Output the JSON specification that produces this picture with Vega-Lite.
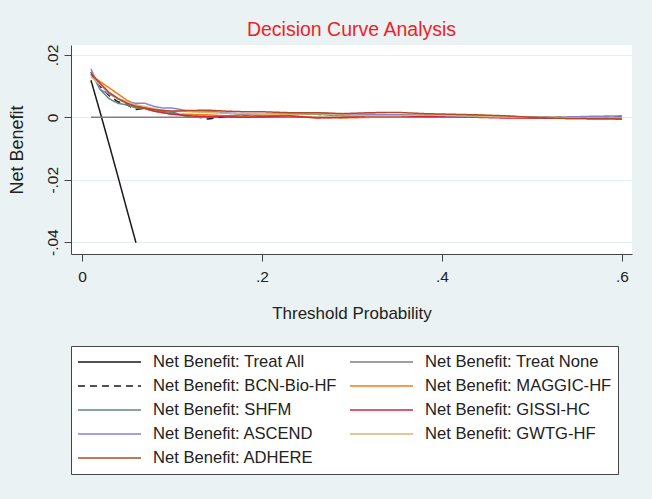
{
  "$schema": "https://vega.github.io/schema/vega-lite/v6.json",
  "width": 561,
  "height": 209,
  "autosize": {"type": "none"},
  "padding": {"left": 71, "top": 45, "right": 20, "bottom": 245},
  "background": "#eaf2f3",
  "config": {"view": {"fill": "white", "stroke": null}, "font": "Liberation Sans"},
  "title": {"text": "Decision Curve Analysis", "color": "#f01e28", "fontSize": 19.5, "fontWeight": "normal", "font": "Liberation Sans", "anchor": "middle", "frame": "group", "baseline": "bottom", "offset": -15},
  "data": {"values": [
    {"m":"Treat All","t":0.01,"nb":0.0119},{"m":"Treat All","t":0.02,"nb":0.0018},{"m":"Treat All","t":0.03,"nb":-0.0085},{"m":"Treat All","t":0.04,"nb":-0.019},{"m":"Treat All","t":0.05,"nb":-0.0297},{"m":"Treat All","t":0.06,"nb":-0.0402},
    {"m":"Treat None","t":0.01,"nb":0},{"m":"Treat None","t":0.6,"nb":0},
    {"m":"BCN-Bio-HF","t":0.01,"nb":0.0145},{"m":"BCN-Bio-HF","t":0.02,"nb":0.01},{"m":"BCN-Bio-HF","t":0.03,"nb":0.007},{"m":"BCN-Bio-HF","t":0.04,"nb":0.005},{"m":"BCN-Bio-HF","t":0.05,"nb":0.004},{"m":"BCN-Bio-HF","t":0.06,"nb":0.0025},{"m":"BCN-Bio-HF","t":0.07,"nb":0.003},{"m":"BCN-Bio-HF","t":0.08,"nb":0.0025},{"m":"BCN-Bio-HF","t":0.09,"nb":0.002},{"m":"BCN-Bio-HF","t":0.1,"nb":0.0015},{"m":"BCN-Bio-HF","t":0.12,"nb":0.0005},{"m":"BCN-Bio-HF","t":0.14,"nb":-0.0005},{"m":"BCN-Bio-HF","t":0.16,"nb":0.0003},{"m":"BCN-Bio-HF","t":0.18,"nb":0.0005},{"m":"BCN-Bio-HF","t":0.2,"nb":0.0008},{"m":"BCN-Bio-HF","t":0.23,"nb":0.001},{"m":"BCN-Bio-HF","t":0.26,"nb":0.001},{"m":"BCN-Bio-HF","t":0.29,"nb":0.0008},{"m":"BCN-Bio-HF","t":0.32,"nb":0.0008},{"m":"BCN-Bio-HF","t":0.35,"nb":0.0008},{"m":"BCN-Bio-HF","t":0.38,"nb":0.0007},{"m":"BCN-Bio-HF","t":0.41,"nb":0.0005},{"m":"BCN-Bio-HF","t":0.44,"nb":0.0003},{"m":"BCN-Bio-HF","t":0.47,"nb":0.0002},{"m":"BCN-Bio-HF","t":0.5,"nb":0},{"m":"BCN-Bio-HF","t":0.53,"nb":0},{"m":"BCN-Bio-HF","t":0.56,"nb":0},{"m":"BCN-Bio-HF","t":0.6,"nb":0},
    {"m":"MAGGIC-HF","t":0.01,"nb":0.0135},{"m":"MAGGIC-HF","t":0.02,"nb":0.0115},{"m":"MAGGIC-HF","t":0.03,"nb":0.0095},{"m":"MAGGIC-HF","t":0.04,"nb":0.0075},{"m":"MAGGIC-HF","t":0.05,"nb":0.0055},{"m":"MAGGIC-HF","t":0.06,"nb":0.004},{"m":"MAGGIC-HF","t":0.07,"nb":0.003},{"m":"MAGGIC-HF","t":0.08,"nb":0.002},{"m":"MAGGIC-HF","t":0.09,"nb":0.0015},{"m":"MAGGIC-HF","t":0.1,"nb":0.001},{"m":"MAGGIC-HF","t":0.12,"nb":0.001},{"m":"MAGGIC-HF","t":0.14,"nb":0.0008},{"m":"MAGGIC-HF","t":0.16,"nb":0.0005},{"m":"MAGGIC-HF","t":0.18,"nb":0.0003},{"m":"MAGGIC-HF","t":0.2,"nb":0.0005},{"m":"MAGGIC-HF","t":0.23,"nb":0.0005},{"m":"MAGGIC-HF","t":0.26,"nb":0},{"m":"MAGGIC-HF","t":0.29,"nb":-0.0002},{"m":"MAGGIC-HF","t":0.32,"nb":0},{"m":"MAGGIC-HF","t":0.35,"nb":0},{"m":"MAGGIC-HF","t":0.38,"nb":0.0002},{"m":"MAGGIC-HF","t":0.41,"nb":0.0005},{"m":"MAGGIC-HF","t":0.44,"nb":0.0003},{"m":"MAGGIC-HF","t":0.47,"nb":0},{"m":"MAGGIC-HF","t":0.5,"nb":-0.0002},{"m":"MAGGIC-HF","t":0.53,"nb":-0.0003},{"m":"MAGGIC-HF","t":0.56,"nb":-0.0003},{"m":"MAGGIC-HF","t":0.6,"nb":-0.0003},
    {"m":"SHFM","t":0.01,"nb":0.0145},{"m":"SHFM","t":0.02,"nb":0.009},{"m":"SHFM","t":0.03,"nb":0.006},{"m":"SHFM","t":0.04,"nb":0.0045},{"m":"SHFM","t":0.05,"nb":0.004},{"m":"SHFM","t":0.06,"nb":0.003},{"m":"SHFM","t":0.07,"nb":0.003},{"m":"SHFM","t":0.08,"nb":0.0025},{"m":"SHFM","t":0.09,"nb":0.002},{"m":"SHFM","t":0.1,"nb":0.0015},{"m":"SHFM","t":0.12,"nb":0},{"m":"SHFM","t":0.14,"nb":0},{"m":"SHFM","t":0.16,"nb":0.0005},{"m":"SHFM","t":0.18,"nb":0.0008},{"m":"SHFM","t":0.2,"nb":0.0008},{"m":"SHFM","t":0.23,"nb":0.001},{"m":"SHFM","t":0.26,"nb":0.001},{"m":"SHFM","t":0.29,"nb":0.0006},{"m":"SHFM","t":0.32,"nb":0.0006},{"m":"SHFM","t":0.35,"nb":0.0008},{"m":"SHFM","t":0.38,"nb":0.0008},{"m":"SHFM","t":0.41,"nb":0.0008},{"m":"SHFM","t":0.44,"nb":0.0006},{"m":"SHFM","t":0.47,"nb":0.0004},{"m":"SHFM","t":0.5,"nb":0},{"m":"SHFM","t":0.53,"nb":-0.0002},{"m":"SHFM","t":0.56,"nb":-0.0002},{"m":"SHFM","t":0.6,"nb":-0.0003},
    {"m":"GISSI-HC","t":0.01,"nb":0.014},{"m":"GISSI-HC","t":0.02,"nb":0.0105},{"m":"GISSI-HC","t":0.03,"nb":0.008},{"m":"GISSI-HC","t":0.04,"nb":0.006},{"m":"GISSI-HC","t":0.05,"nb":0.0045},{"m":"GISSI-HC","t":0.06,"nb":0.0035},{"m":"GISSI-HC","t":0.07,"nb":0.0028},{"m":"GISSI-HC","t":0.08,"nb":0.002},{"m":"GISSI-HC","t":0.09,"nb":0.0015},{"m":"GISSI-HC","t":0.1,"nb":0.001},{"m":"GISSI-HC","t":0.12,"nb":0.0005},{"m":"GISSI-HC","t":0.14,"nb":0.0003},{"m":"GISSI-HC","t":0.16,"nb":0.0002},{"m":"GISSI-HC","t":0.18,"nb":0},{"m":"GISSI-HC","t":0.2,"nb":0.0002},{"m":"GISSI-HC","t":0.23,"nb":0.0005},{"m":"GISSI-HC","t":0.26,"nb":-0.0002},{"m":"GISSI-HC","t":0.29,"nb":0},{"m":"GISSI-HC","t":0.32,"nb":0.0003},{"m":"GISSI-HC","t":0.35,"nb":0.0003},{"m":"GISSI-HC","t":0.38,"nb":0.0003},{"m":"GISSI-HC","t":0.41,"nb":0.0003},{"m":"GISSI-HC","t":0.44,"nb":0},{"m":"GISSI-HC","t":0.47,"nb":-0.0002},{"m":"GISSI-HC","t":0.5,"nb":-0.0002},{"m":"GISSI-HC","t":0.53,"nb":-0.0003},{"m":"GISSI-HC","t":0.56,"nb":-0.0004},{"m":"GISSI-HC","t":0.6,"nb":-0.0005},
    {"m":"ASCEND","t":0.01,"nb":0.0155},{"m":"ASCEND","t":0.02,"nb":0.009},{"m":"ASCEND","t":0.03,"nb":0.0075},{"m":"ASCEND","t":0.04,"nb":0.006},{"m":"ASCEND","t":0.05,"nb":0.005},{"m":"ASCEND","t":0.06,"nb":0.0045},{"m":"ASCEND","t":0.07,"nb":0.0045},{"m":"ASCEND","t":0.08,"nb":0.0035},{"m":"ASCEND","t":0.09,"nb":0.003},{"m":"ASCEND","t":0.1,"nb":0.003},{"m":"ASCEND","t":0.12,"nb":0.002},{"m":"ASCEND","t":0.14,"nb":0.002},{"m":"ASCEND","t":0.16,"nb":0.0015},{"m":"ASCEND","t":0.18,"nb":0.001},{"m":"ASCEND","t":0.2,"nb":0.001},{"m":"ASCEND","t":0.23,"nb":0.0012},{"m":"ASCEND","t":0.26,"nb":0.0015},{"m":"ASCEND","t":0.29,"nb":0.001},{"m":"ASCEND","t":0.32,"nb":0.001},{"m":"ASCEND","t":0.35,"nb":0.0008},{"m":"ASCEND","t":0.38,"nb":0.0008},{"m":"ASCEND","t":0.41,"nb":0.0005},{"m":"ASCEND","t":0.44,"nb":0.0002},{"m":"ASCEND","t":0.47,"nb":0},{"m":"ASCEND","t":0.5,"nb":0},{"m":"ASCEND","t":0.53,"nb":0},{"m":"ASCEND","t":0.56,"nb":0.0003},{"m":"ASCEND","t":0.6,"nb":0.0005},
    {"m":"GWTG-HF","t":0.01,"nb":0.013},{"m":"GWTG-HF","t":0.02,"nb":0.0105},{"m":"GWTG-HF","t":0.03,"nb":0.008},{"m":"GWTG-HF","t":0.04,"nb":0.006},{"m":"GWTG-HF","t":0.05,"nb":0.005},{"m":"GWTG-HF","t":0.06,"nb":0.004},{"m":"GWTG-HF","t":0.07,"nb":0.0035},{"m":"GWTG-HF","t":0.08,"nb":0.0028},{"m":"GWTG-HF","t":0.09,"nb":0.0023},{"m":"GWTG-HF","t":0.1,"nb":0.002},{"m":"GWTG-HF","t":0.12,"nb":0.0018},{"m":"GWTG-HF","t":0.14,"nb":0.0015},{"m":"GWTG-HF","t":0.16,"nb":0.0013},{"m":"GWTG-HF","t":0.18,"nb":0.0012},{"m":"GWTG-HF","t":0.2,"nb":0.001},{"m":"GWTG-HF","t":0.23,"nb":0.001},{"m":"GWTG-HF","t":0.26,"nb":0.0012},{"m":"GWTG-HF","t":0.29,"nb":0.0008},{"m":"GWTG-HF","t":0.32,"nb":0.0005},{"m":"GWTG-HF","t":0.35,"nb":0.0005},{"m":"GWTG-HF","t":0.38,"nb":0.0008},{"m":"GWTG-HF","t":0.41,"nb":0.0006},{"m":"GWTG-HF","t":0.44,"nb":0.0004},{"m":"GWTG-HF","t":0.47,"nb":0.0002},{"m":"GWTG-HF","t":0.5,"nb":0},{"m":"GWTG-HF","t":0.53,"nb":0},{"m":"GWTG-HF","t":0.56,"nb":-0.0002},{"m":"GWTG-HF","t":0.6,"nb":-0.0002},
    {"m":"ADHERE","t":0.01,"nb":0.014},{"m":"ADHERE","t":0.02,"nb":0.011},{"m":"ADHERE","t":0.03,"nb":0.008},{"m":"ADHERE","t":0.04,"nb":0.006},{"m":"ADHERE","t":0.05,"nb":0.0045},{"m":"ADHERE","t":0.06,"nb":0.0035},{"m":"ADHERE","t":0.07,"nb":0.003},{"m":"ADHERE","t":0.08,"nb":0.0025},{"m":"ADHERE","t":0.09,"nb":0.0022},{"m":"ADHERE","t":0.1,"nb":0.002},{"m":"ADHERE","t":0.12,"nb":0.0022},{"m":"ADHERE","t":0.14,"nb":0.0023},{"m":"ADHERE","t":0.16,"nb":0.002},{"m":"ADHERE","t":0.18,"nb":0.0018},{"m":"ADHERE","t":0.2,"nb":0.0018},{"m":"ADHERE","t":0.23,"nb":0.0015},{"m":"ADHERE","t":0.26,"nb":0.0015},{"m":"ADHERE","t":0.29,"nb":0.0012},{"m":"ADHERE","t":0.32,"nb":0.0015},{"m":"ADHERE","t":0.35,"nb":0.0016},{"m":"ADHERE","t":0.38,"nb":0.0012},{"m":"ADHERE","t":0.41,"nb":0.001},{"m":"ADHERE","t":0.44,"nb":0.0008},{"m":"ADHERE","t":0.47,"nb":0.0005},{"m":"ADHERE","t":0.5,"nb":0},{"m":"ADHERE","t":0.53,"nb":-0.0003},{"m":"ADHERE","t":0.56,"nb":-0.0004},{"m":"ADHERE","t":0.6,"nb":-0.0005}
  ]},
  "mark": {"type": "line", "strokeWidth": 1.5},
  "encoding": {
    "x": {"field": "t", "type": "quantitative",
      "scale": {"domain": [-0.0122, 0.6111], "nice": false, "zero": false},
      "axis": {"values": [0, 0.2, 0.4, 0.6], "title": "Threshold Probability",
        "labelExpr": "datum.value == 0 ? '0' : replace(format(datum.value, '.1f'), '0.', '.')",
        "grid": false, "domainColor": "#444", "tickColor": "#444", "tickSize": 7,
        "labelFontSize": 15.5, "labelColor": "#222", "labelPadding": 8, "labelFlush": false,
        "titleFontSize": 17, "titleFontWeight": "normal", "titleColor": "#222", "titlePadding": 21}},
    "y": {"field": "nb", "type": "quantitative",
      "scale": {"domain": [-0.0438, 0.0232], "nice": false, "zero": false},
      "axis": {"values": [-0.04, -0.02, 0, 0.02], "title": "Net Benefit",
        "labelExpr": "datum.value == 0 ? '0' : (datum.value < 0 ? '-' : '') + replace(format(abs(datum.value), '.2f'), '0.', '.')",
        "labelAngle": 270, "labelAlign": "center", "labelBaseline": "alphabetic", "labelPadding": 7,
        "grid": true, "gridColor": "#e3eef0", "gridWidth": 1,
        "domainColor": "#444", "tickColor": "#444", "tickSize": 7,
        "labelFontSize": 15.5, "labelColor": "#222",
        "titleFontSize": 18, "titleFontWeight": "normal", "titleColor": "#222", "titlePadding": 19}},
    "color": {"field": "m", "type": "nominal",
      "scale": {"domain": ["Treat All", "BCN-Bio-HF", "SHFM", "ASCEND", "ADHERE", "Treat None", "MAGGIC-HF", "GISSI-HC", "GWTG-HF"],
        "range": ["#1a1a1a", "#1a1a1a", "#5f8a7a", "#8b80d8", "#b44a24", "#808080", "#ee7d1f", "#d2263e", "#d4b873"]},
      "legend": {"title": null, "orient": "none", "legendX": 0, "legendY": 301, "columns": 2, "gridAlign": "all",
        "symbolType": "stroke", "symbolSize": 3969, "symbolStrokeWidth": 1.5,
        "labelFontSize": 16.6, "labelColor": "#222", "labelOffset": 11, "labelLimit": 300,
        "labelExpr": "'Net Benefit: ' + datum.label",
        "clipHeight": 20, "rowPadding": 4, "columnPadding": 9, "padding": 6,
        "fillColor": "white", "strokeColor": "#444"}},
    "strokeDash": {"field": "m", "type": "nominal",
      "scale": {"domain": ["Treat All", "BCN-Bio-HF", "SHFM", "ASCEND", "ADHERE", "Treat None", "MAGGIC-HF", "GISSI-HC", "GWTG-HF"],
        "range": [[1, 0], [7, 5], [1, 0], [1, 0], [1, 0], [1, 0], [1, 0], [1, 0], [1, 0]]},
      "legend": {"title": null, "orient": "none", "legendX": 0, "legendY": 301, "columns": 2, "gridAlign": "all",
        "symbolType": "stroke", "symbolSize": 3969, "symbolStrokeWidth": 1.5,
        "labelFontSize": 16.6, "labelColor": "#222", "labelOffset": 11, "labelLimit": 300,
        "labelExpr": "'Net Benefit: ' + datum.label",
        "clipHeight": 20, "rowPadding": 4, "columnPadding": 9, "padding": 6,
        "fillColor": "white", "strokeColor": "#444"}}
  }
}
